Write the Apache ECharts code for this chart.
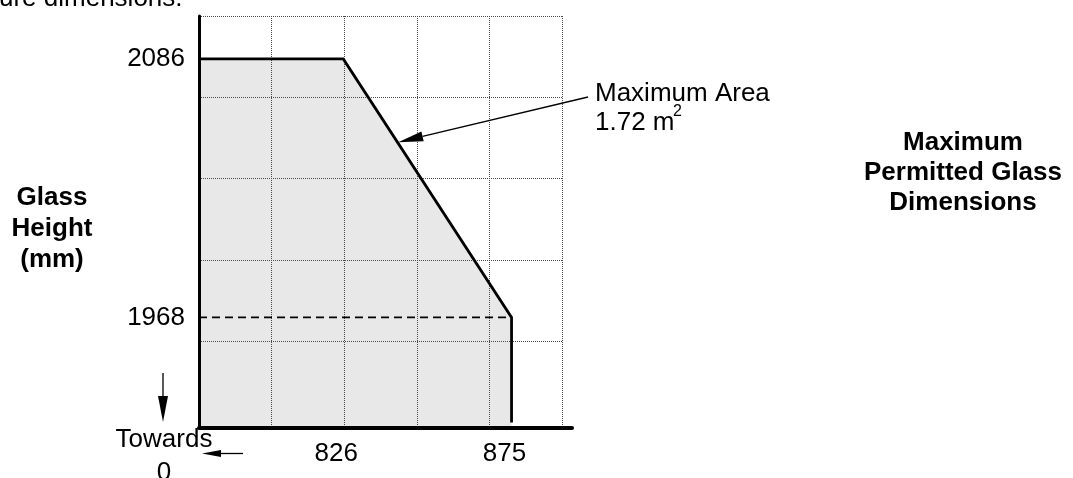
<!DOCTYPE html>
<html>
<head>
<meta charset="utf-8">
<script src="https://cdn.jsdelivr.net/npm/echarts@6/dist/echarts.min.js"></script>
<style>
html,body{margin:0;padding:0;background:#fff;}
#chart{width:1073px;height:478px;}
</style>
</head>
<body>
<div id="chart"></div>
<script>
// ---- data ----
const widthMm   = [784, 826, 875, 875];       // glass width along the outline
const heightMm  = [2086, 2086, 1968, 1920];   // glass height along the outline
const dashWidth = [784, 875];
const dashHeight = [1968, 1968];
const xTickLabels = [826, 875];
const yTickLabels = [1968, 2086];
const annotTip = [842, 2048];                 // where the "Maximum Area" arrow points
const areaLabel = ['Maximum Area', '1.72 m', '2'];

const X_MIN = 784, X_MAX = 892.6;
const Y_MIN = 1917.5, Y_MAX = 2105.6;

const FONT = '"Liberation Sans", Arial, Helvetica, sans-serif';
const outline = widthMm.map((w, i) => [w, heightMm[i]]);
const dashed = dashWidth.map((w, i) => [w, dashHeight[i]]);

const chart = echarts.init(document.getElementById('chart'), null, {renderer: 'canvas'});
const gridLine = {show: true, lineStyle: {color: '#4a4a4a', width: 1, type: [1, 1]}};
const hidden = {show: false};
const plain = v => String(v);

chart.setOption({
  animation: false,
  backgroundColor: '#fff',
  textStyle: {fontFamily: FONT},
  grid: [
    {left: 199, top: 16, width: 373, height: 412},
    {left: 199, top: 16, width: 363, height: 412},
    {left: 199, top: 16, width: 363, height: 325}
  ],
  xAxis: [
    {gridIndex: 0, type: 'value', min: X_MIN, max: X_MAX, z: 6,
     axisLine: {show: true, onZero: false, lineStyle: {color: '#000', width: 4}},
     axisTick: {show: false}, splitLine: {show: false},
     axisLabel: {customValues: xTickLabels, formatter: plain, color: '#000', fontSize: 26, fontFamily: FONT,
                 margin: 13, padding: [0, 14, 0, 0]}},
    {gridIndex: 1, type: 'value', min: 0, max: 5, interval: 1, z: 3,
     axisLine: hidden, axisTick: hidden, axisLabel: hidden, splitLine: gridLine},
    {gridIndex: 2, type: 'value', min: 0, max: 1, z: 3,
     axisLine: hidden, axisTick: hidden, axisLabel: hidden, splitLine: hidden}
  ],
  yAxis: [
    {gridIndex: 0, type: 'value', min: Y_MIN, max: Y_MAX, z: 6,
     axisLine: {show: true, onZero: false, lineStyle: {color: '#000', width: 3}},
     axisTick: {show: false}, splitLine: {show: false},
     axisLabel: {customValues: yTickLabels, formatter: plain, color: '#000', fontSize: 26, fontFamily: FONT,
                 margin: 14, padding: [4, 0, 0, 0]}},
    {gridIndex: 1, type: 'value', min: 0, max: 1, z: 3,
     axisLine: hidden, axisTick: hidden, axisLabel: hidden, splitLine: hidden},
    {gridIndex: 2, type: 'value', min: 0, max: 4, interval: 1, z: 3,
     axisLine: hidden, axisTick: hidden, axisLabel: hidden, splitLine: gridLine}
  ],
  series: [
    {type: 'line', xAxisIndex: 0, yAxisIndex: 0, data: outline, z: 1,
     symbol: 'none', silent: true,
     lineStyle: {width: 0, opacity: 0},
     areaStyle: {color: '#e8e8e8', opacity: 1, origin: 'start'}},
    {type: 'line', xAxisIndex: 0, yAxisIndex: 0, data: dashed, z: 4,
     symbol: 'none', silent: true,
     lineStyle: {color: '#000', width: 1.6, type: [8, 5]}},
    {type: 'line', xAxisIndex: 0, yAxisIndex: 0, data: outline, z: 5,
     symbol: 'none', silent: true,
     lineStyle: {color: '#000', width: 2.8, join: 'miter', cap: 'butt'}}
  ]
});

// ---- annotations ----
const tip = chart.convertToPixel({gridIndex: 0}, annotTip);
const tail = [588, 97];
const dx = tip[0] - tail[0], dy = tip[1] - tail[1];
const len = Math.sqrt(dx * dx + dy * dy);
const ux = dx / len, uy = dy / len;
const headLen = 25, headHalf = 5;
const bx = tip[0] - ux * headLen, by = tip[1] - uy * headLen;

function txt(text, x, y, size, weight, align, lh) {
  return {type: 'text', silent: true, z: 10,
    style: {text: text, x: x, y: y, fill: '#000', font: weight + ' ' + size + 'px ' + FONT,
            align: align, verticalAlign: 'middle', lineHeight: lh || size}};
}

chart.setOption({
  graphic: [
    {type: 'line', silent: true, z: 10,
     shape: {x1: tail[0], y1: tail[1], x2: bx, y2: by},
     style: {stroke: '#000', lineWidth: 1.3}},
    {type: 'polygon', silent: true, z: 10,
     shape: {points: [tip, [bx - uy * headHalf, by + ux * headHalf], [bx + uy * headHalf, by - ux * headHalf]]},
     style: {fill: '#000'}},
    txt(areaLabel[0], 595, 94, 26, 'normal', 'left'),
    txt(areaLabel[1], 595, 123, 26, 'normal', 'left'),
    txt(areaLabel[2], 673, 112, 16, 'normal', 'left'),
    txt('ure dimensions.', -1, -1, 26, 'normal', 'left'),
    txt('Glass\nHeight\n(mm)', 52, 229, 26, 'bold', 'center', 31),
    txt('Maximum\nPermitted Glass\nDimensions', 963, 173, 26, 'bold', 'center', 30),
    txt('Towards', 164, 440, 26, 'normal', 'center'),
    txt('0', 164, 473, 26, 'normal', 'center'),
    // down arrow
    {type: 'line', silent: true, z: 10, shape: {x1: 163, y1: 373, x2: 163, y2: 400},
     style: {stroke: '#000', lineWidth: 1.3}},
    {type: 'polygon', silent: true, z: 10, shape: {points: [[158, 396], [168, 396], [163, 422]]},
     style: {fill: '#000'}},
    // left arrow
    {type: 'line', silent: true, z: 10, shape: {x1: 243, y1: 453.5, x2: 218, y2: 453.5},
     style: {stroke: '#000', lineWidth: 1.3}},
    {type: 'polygon', silent: true, z: 10, shape: {points: [[202, 453.5], [221, 450], [221, 457]]},
     style: {fill: '#000'}}
  ]
});
</script>
</body>
</html>
